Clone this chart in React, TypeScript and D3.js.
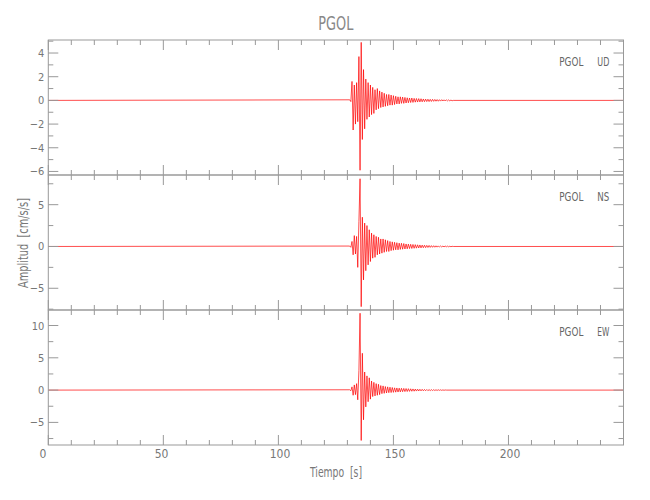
import { useEffect, useRef } from 'react';
import * as d3 from 'd3';

// waveform samples: start at t0, one value every dt seconds (cm/s/s)
const t0 = 131;
const dt = 0.5;
const xMax = 250;

const station = 'PGOL';
const components = ['UD', 'NS', 'EW'];

const udValues = [0.05, -0.1, 1.6, -2.5, 1.3, -2.0, 1.5, -1.8, 3.7, -5.9, 4.9, -3.3, 2.6, -2.4, 1.8, -1.6, 1.5, -1.4, 1.3, -1.2, 1.1, -1.1, 0.9, -0.8, 1.0, -0.7, 0.8, -0.6, 0.7, -0.55, 0.6, -0.5, 0.5, -0.45, 0.5, -0.4, 0.45, -0.4, 0.4, -0.35, 0.35, -0.3, 0.3, -0.3, 0.3, -0.25, 0.28, -0.25, 0.25, -0.22, 0.22, -0.2, 0.2, -0.18, 0.2, -0.17, 0.17, -0.15, 0.16, -0.14, 0.15, -0.13, 0.14, -0.12, 0.12, -0.11, 0.11, -0.1, 0.1, -0.1, 0.09, -0.09, 0.09, -0.08, 0.08, -0.07, 0.07, -0.07, 0.06, -0.06, 0.06, -0.05, 0.05, -0.05, 0.05, -0.04, 0.04, -0.04, 0.03, -0.03, 0];
const nsValues = [0.05, -0.1, 0.6, -1.0, 1.3, -0.9, 1.2, -2.5, 3.0, 8.1, -7.2, 3.5, -4.0, 2.8, -2.9, 2.5, -2.2, 2.0, -1.8, 1.6, -1.4, 1.4, -1.3, 1.2, -1.0, 1.1, -0.9, 0.9, -0.8, 0.9, -0.7, 0.8, -0.6, 0.7, -0.6, 0.6, -0.5, 0.55, -0.45, 0.5, -0.4, 0.45, -0.4, 0.4, -0.35, 0.38, -0.33, 0.35, -0.3, 0.3, -0.28, 0.28, -0.25, 0.26, -0.24, 0.24, -0.22, 0.22, -0.2, 0.2, -0.18, 0.18, -0.17, 0.16, -0.15, 0.15, -0.14, 0.13, -0.12, 0.12, -0.11, 0.1, -0.1, 0.09, -0.09, 0.08, -0.08, 0.07, -0.07, 0.06, -0.06, 0.05, -0.05, 0.05, -0.04, 0.04, -0.04, 0.03, -0.03, 0.02, 0];
const ewValues = [0.05, -0.1, 0.5, -0.8, 0.8, -0.7, 1.0, -1.5, 3.0, 11.9, -7.8, 5.7, -4.6, 2.8, -2.6, 2.2, -1.8, 1.9, -1.4, 1.4, -1.0, 1.2, -0.9, 1.0, -0.8, 0.9, -0.7, 0.7, -0.55, 0.65, -0.5, 0.55, -0.45, 0.5, -0.4, 0.45, -0.38, 0.4, -0.35, 0.35, -0.32, 0.33, -0.3, 0.3, -0.28, 0.28, -0.25, 0.26, -0.23, 0.24, -0.22, 0.22, -0.2, 0.2, -0.18, 0.18, -0.17, 0.16, -0.15, 0.15, -0.14, 0.13, -0.12, 0.12, -0.11, 0.1, -0.1, 0.09, -0.09, 0.08, -0.08, 0.07, -0.07, 0.06, -0.06, 0.05, -0.05, 0.05, -0.04, 0.04, -0.04, 0.03, -0.03, 0.02, 0];

const yDomains: [number, number][] = [[-6.3, 5.1], [-7.6, 8.55], [-8.5, 12.4]];
const yMajor = [2, 5, 5];
const yMinor = [1, 2.5, 2.5];
const xTickLabels = [0, 50, 100, 150, 200];

const App = () => {
  const svgRef = useRef<SVGSVGElement | null>(null);

  useEffect(() => {
    const width = 650;
    const height = 500;
    const left = 48.3;
    const right = 623.5;
    const tops = [40, 175, 310];
    const panelH = 135;
    const axisColor = '#999';
    const textColor = '#777';
    const font = "'Liberation Sans Narrow', 'DejaVu Sans Condensed', sans-serif";

    const svg = d3.select(svgRef.current);
    svg.selectAll('*').remove();
    svg.attr('width', width).attr('height', height);

    svg.append('rect').attr('width', width).attr('height', height).attr('fill', 'white');

    const x = d3.scaleLinear().domain([0, xMax]).range([left, right]);
    const series = [udValues, nsValues, ewValues];

    series.forEach((vals, p) => {
      const top = tops[p];
      const bottom = top + panelH;
      const y = d3.scaleLinear().domain(yDomains[p]).range([bottom, top]);
      const g = svg.append('g');

      // waveform
      const pts: [number, number][] = [[0, 0], ...vals.map((v, i) => [t0 + i * dt, v] as [number, number]), [xMax, 0]];
      const line = d3.line<[number, number]>().x(d => x(d[0])).y(d => y(d[1]));
      g.append('path')
        .attr('d', line(pts) || '')
        .attr('fill', 'none')
        .attr('stroke', '#ff0000')
        .attr('stroke-width', 0.7);

      // box
      g.append('rect')
        .attr('x', left).attr('y', top)
        .attr('width', right - left).attr('height', panelH)
        .attr('fill', 'none').attr('stroke', axisColor).attr('stroke-width', 1);

      // x ticks, top and bottom, inward
      d3.range(0, xMax + 0.1, 10).forEach(t => {
        const len = t % 50 === 0 ? 10 : 5;
        g.append('line').attr('x1', x(t)).attr('x2', x(t)).attr('y1', bottom).attr('y2', bottom - len)
          .attr('stroke', axisColor);
        g.append('line').attr('x1', x(t)).attr('x2', x(t)).attr('y1', top).attr('y2', top + len)
          .attr('stroke', axisColor);
      });

      // y ticks, left and right, inward
      const [y0, y1] = yDomains[p];
      const start = Math.ceil(y0 / yMinor[p]) * yMinor[p];
      d3.range(start, y1 + 1e-6, yMinor[p]).forEach(v => {
        const major = Math.abs(v / yMajor[p] - Math.round(v / yMajor[p])) < 1e-6;
        const len = major ? 10 : 5;
        g.append('line').attr('x1', left).attr('x2', left + len).attr('y1', y(v)).attr('y2', y(v))
          .attr('stroke', axisColor);
        g.append('line').attr('x1', right).attr('x2', right - len).attr('y1', y(v)).attr('y2', y(v))
          .attr('stroke', axisColor);
        if (major) {
          g.append('text')
            .attr('x', left - 4).attr('y', y(v) + 4)
            .attr('text-anchor', 'end')
            .style('font-family', font).style('font-size', '11px')
            .attr('fill', textColor)
            .text(String(v).replace('-', '\u2212'));
        }
      });

      // panel label
      g.append('text')
        .attr('x', 559.3).attr('y', top + 26)
        .attr('textLength', 24).attr('lengthAdjust', 'spacingAndGlyphs')
        .style('font-family', font).style('font-size', '12px')
        .attr('fill', '#666').text(station);
      g.append('text')
        .attr('x', 597.3).attr('y', top + 26)
        .attr('textLength', 12).attr('lengthAdjust', 'spacingAndGlyphs')
        .style('font-family', font).style('font-size', '12px')
        .attr('fill', '#666').text(components[p]);
    });

    // x tick labels under the bottom panel (left-aligned in a 3-char field)
    xTickLabels.forEach(t => {
      svg.append('text')
        .attr('x', x(t) - 8.7).attr('y', 458.3)
        .style('font-family', font).style('font-size', '12px')
        .attr('fill', textColor)
        .text(String(t));
    });

    // titles
    svg.append('text')
      .attr('x', 318.3).attr('y', 30)
      .attr('textLength', 35).attr('lengthAdjust', 'spacingAndGlyphs')
      .style('font-family', font).style('font-size', '20px')
      .attr('fill', '#888').text(station);

    svg.append('text')
      .attr('x', 310).attr('y', 476.5)
      .attr('textLength', 52).attr('lengthAdjust', 'spacingAndGlyphs')
      .style('font-family', font).style('font-size', '14px')
      .attr('fill', textColor).attr('xml:space', 'preserve').text('Tiempo  [s]');

    svg.append('text')
      .attr('transform', 'translate(27.5,243) rotate(-90)')
      .attr('text-anchor', 'middle')
      .attr('textLength', 90).attr('lengthAdjust', 'spacingAndGlyphs')
      .style('font-family', font).style('font-size', '14px')
      .style('white-space', 'pre')
      .attr('fill', textColor).text('Amplitud  [cm/s/s]');
  }, []);

  return <svg ref={svgRef} style={{ position: 'absolute', left: 0, top: 0, display: 'block' }}></svg>;
};

export default App;
